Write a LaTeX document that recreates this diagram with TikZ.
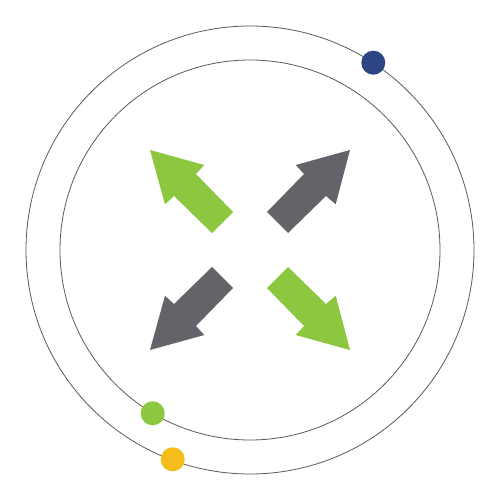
\documentclass[tikz,border=0pt]{standalone}
\definecolor{ringgray}{HTML}{5A5A5E}
\definecolor{arrowgreen}{HTML}{8DC63F}
\definecolor{arrowgray}{HTML}{636469}
\definecolor{dotblue}{HTML}{2E4583}
\definecolor{dotgreen}{HTML}{8DC63F}
\definecolor{dotyellow}{HTML}{F4BD1C}
\tikzset{
  ring/.style={draw=ringgray, line width=0.8pt},
  dot/.style={circle, inner sep=0pt, minimum size=24pt, draw=none},
  arrowshape/.style={draw=none}
}
\begin{document}
\begin{tikzpicture}[x=1pt,y=-1pt]
\useasboundingbox (0,0) rectangle (500,500);
\fill[white] (0,0) rectangle (500,500);
\coordinate (c) at (250,250);
\draw[ring] (c) circle[radius=224];
\draw[ring] (c) circle[radius=190];
% green arrow top-left
\fill[arrowgreen] (150,150) -- (204.3,165) -- (196,174) -- (233,212) -- (212,233) -- (174,196) -- (165,204.3) -- cycle;
% gray arrow top-right
\fill[arrowgray] (350,150) -- (335.7,204.3) -- (326,196) -- (288,233) -- (267,212) -- (304,174) -- (295.7,165) -- cycle;
% gray arrow bottom-left
\fill[arrowgray] (150,350) -- (204.3,335) -- (196,326) -- (233,288) -- (212,267) -- (174,304) -- (165,295.7) -- cycle;
% green arrow bottom-right
\fill[arrowgreen] (350,350) -- (335.7,295.7) -- (326,304) -- (288,267) -- (267,288) -- (304,326) -- (295.7,335) -- cycle;
% dots
\node[dot, fill=dotblue] (blue) at (373.3,62.7) {};
\node[dot, fill=dotgreen] (green) at (152.7,413.3) {};
\node[dot, fill=dotyellow] (yellow) at (172.7,459.3) {};
\end{tikzpicture}
\end{document}
